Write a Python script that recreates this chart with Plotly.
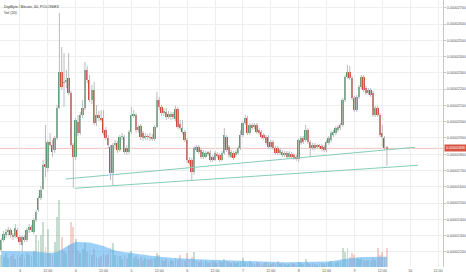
import pandas as pd
import plotly.graph_objects as go

TITLE = "DigiByte / Bitcoin, 60, POLONIEX"
VOL_TITLE = "Vol (20)"
START = "2017-05-02 16:00"  # first hourly bar

# prices in satoshi (1e-8 BTC)
OPEN = [1212,1273,1304,1322,1335,1304,1298,1335,1292,1242,1292,1273,1335,1353,1322,1396,1457,1531,1587,1740,
        1716,1875,1857,1826,1900,2084,2306,2238,2244,2269,2177,1857,1783,1998,1931,2041,2084,2318,2256,2134,
        2195,1992,2041,2023,2023,1949,1900,1845,1685,1857,1869,1826,1906,1906,1839,1814,1937,2041,2041,1949,
        1974,1931,1900,1912,1906,1900,1894,1968,2134,2091,2054,2060,2048,2029,2048,2017,2078,1986,1961,1937,
        1888,1765,1765,1691,1826,1845,1826,1783,1783,1808,1808,1783,1765,1802,1796,1765,1808,1906,1845,1783,
        1808,1796,1808,1839,1918,1992,2023,1931,1980,1968,1980,1949,1937,1918,1906,1906,1875,1875,1839,1839,
        1808,1814,1796,1808,1783,1802,1796,1783,1771,1869,1900,1888,1949,1875,1839,1857,1845,1851,1851,1845,
        1826,1869,1888,1918,1931,1949,1961,1980,2134,2275,2306,2269,2146,2072,2152,2213,2275,2207,2177,2195,
        2177,2041,2084,2041,1931,1900,1839]
HIGH = [1285,1329,1341,1353,1347,1316,1371,1347,1304,1304,1304,1347,1371,1365,1408,1457,1544,1605,1765,1980,
        1888,1931,1888,1912,2103,2668,2459,2422,2318,2422,2189,1869,2023,2041,2060,2134,2367,2343,2287,2226,
        2244,2103,2066,2072,2072,1968,1918,1857,1869,1888,1882,1918,1931,1918,1857,1949,2091,2072,2054,1980,
        1986,1943,1931,1925,1931,1925,1980,2183,2152,2103,2084,2084,2066,2060,2060,2097,2091,2011,2011,1949,
        1900,1783,1777,1851,1857,1857,1839,1826,1820,1820,1826,1796,1820,1814,1808,1820,1961,1918,1857,1826,
        1820,1826,1851,1949,2004,2041,2035,1992,1992,1992,1992,1961,1949,1931,1918,1918,1888,1888,1851,1851,
        1839,1826,1820,1820,1820,1814,1808,1796,1900,1912,1912,1980,1961,1888,1869,1869,1863,1863,1863,1857,
        1888,1912,1943,1949,1974,1980,1992,2146,2287,2349,2343,2281,2158,2164,2226,2287,2287,2220,2207,2207,
        2189,2097,2097,2054,1980,1912,1851]
LOW = [1199,1261,1285,1298,1285,1273,1285,1279,1242,1199,1261,1261,1316,1322,1310,1384,1445,1519,1580,1660,
       1691,1845,1783,1808,1888,2078,2195,2091,2207,2164,1845,1593,1765,1912,1918,2023,2072,2238,2121,2109,
       1980,1974,2004,1998,1918,1888,1839,1642,1605,1839,1808,1814,1888,1802,1796,1802,1925,2023,1931,1931,
       1888,1882,1888,1888,1882,1882,1882,1961,2072,2035,2035,2011,2017,2011,2017,2004,1955,1949,1925,1875,
       1746,1734,1642,1673,1814,1802,1771,1771,1777,1789,1752,1752,1759,1777,1752,1759,1796,1814,1777,1777,
       1765,1783,1796,1826,1906,1980,1918,1918,1949,1955,1925,1918,1894,1888,1857,1832,1832,1826,1796,1796,
       1796,1783,1783,1771,1771,1771,1765,1759,1752,1857,1863,1875,1863,1783,1826,1826,1832,1832,1820,1814,
       1814,1857,1875,1906,1918,1937,1949,1968,2121,2263,2256,2134,2060,2060,2140,2201,2183,2164,2164,2152,
       2029,2029,2029,1906,1845,1826,1728]
CLOSE = [1273,1310,1322,1335,1304,1292,1347,1292,1261,1292,1273,1335,1353,1335,1396,1445,1531,1580,1734,1722,
         1875,1857,1814,1900,2084,2306,2213,2244,2256,2177,1857,1783,2011,1931,2041,2084,2318,2256,2134,2195,
         1992,2041,2023,2011,1931,1900,1857,1685,1857,1869,1826,1906,1912,1814,1814,1937,2041,2048,1949,1968,
         1906,1900,1912,1906,1900,1894,1968,2134,2091,2054,2066,2029,2029,2048,2029,2078,1968,1961,1937,1888,
         1765,1746,1691,1839,1845,1814,1783,1814,1808,1802,1765,1765,1808,1789,1765,1808,1918,1826,1796,1814,
         1777,1814,1839,1918,1992,2023,1931,1980,1961,1980,1937,1931,1906,1900,1869,1845,1845,1839,1808,1808,
         1826,1796,1808,1783,1808,1783,1777,1771,1888,1900,1875,1949,1875,1839,1857,1839,1851,1845,1832,1826,
         1875,1900,1931,1937,1961,1968,1980,2134,2275,2306,2269,2146,2072,2152,2213,2275,2195,2177,2195,2164,
         2041,2084,2041,1918,1906,1839,1836]

VOLUME = [12,10,14,9,11,13,8,12, 10,13,9,14,12,11,16,
          32,26,32,45,20,38,14,12,25,50,67,30,16,14,22,45,40,28,16,14,18,24,15,14,12,18,10,9,11,14,12,13,20,24,12,10,
          11,8,12,9,13,16, 9,11,8,10,7,9,8,7, 8,9,14,12, 7,6,8,5,7,6,9,7, 12, 7,6, 14, 8,10, 15,
          6,5,7,5,6,4,5,6,5,4,6,5,8,6,5,4,5,4,5,6, 9,
          5,4,6,4,3,5,4,3,4,5,4,3,4,3, 6, 3,4,3,2,3,4,3,2,5,4,3, 8,
          4,3,4,3,2,3,4,3,4,5, 6, 4,5,5,6,
          19,15,19,10,14,12,9,8,8,7,6,7,6,9,7,19,12,15,10,19]
VOL_MA = [16,16,16,16,16,16,16,16,16,16,16,16,16,16,15.5,15.5,15,15,
          15,14.5,14,14,14, 14.5,15,16,17.5,19, 20.5,22,23,24,25, 25,25,25,25,25,24.5,
          24,23.5,23,22.5,22,21, 20,19,18,17,16.5,16, 15.5,15,15,14.5,14.5,14,
          13.5,13.5,13,12.5,12.5,12, 12,11.5,11,11,10.5,10.3,
          10,10,9.5,9.5,9.2,9,8.8,8.7, 8.5,8.4,8.3,8.2,8.1,8,7.9,7.8,
          7.7,7.6,7.5,7.4,7.3,7.2,7.1,7, 6.9,6.8,6.7,6.6,6.5,6.4,6.3,6.2,
          6.1,6,5.9,5.8,5.7,5.6,5.5,5.4, 5.3,5.2,5.1,5,4.9,4.8,4.8,4.7,
          4.7,4.7,4.7,4.7,4.7,4.7,4.7,4.7, 4.7,4.7,4.7,4.7,4.7,4.7,4.8,4.9,
          5,5,5.1,5.2,5.2,5.3,5.3,5.4, 5.5,5.7,6,6.4,6.8,7.2,7.7,8.1,
          8.5,8.8,9.1,9.4,9.7,9.8,9.9,10, 10,10.1,10.1,10.2,10.2,10.3,10.3,10.3,10.3,10.3]

PRICE_TICKS = [1200,1300,1400,1500,1600,1700,1800,1900,2000,2100,2200,2300,2400,2500,2600,2700]
PRICE_TICK_LABELS = ["0.00001200","0.00001300","0.00001400","0.00001500","0.00001600","0.00001700",
                     "0.00001800","0.00001900","0.00002000","0.00002100","0.00002200","0.00002300",
                     "0.00002400","0.00002500","0.00002600","0.00002700"]
TIME_TICKS = ["2017-05-03 00:00","2017-05-03 12:00","2017-05-04 00:00","2017-05-04 12:00",
              "2017-05-05 00:00","2017-05-05 12:00","2017-05-06 00:00","2017-05-06 12:00",
              "2017-05-07 00:00","2017-05-07 12:00","2017-05-08 00:00","2017-05-08 12:00",
              "2017-05-09 00:00","2017-05-09 12:00","2017-05-10 00:00","2017-05-10 12:00"]
TIME_TICK_LABELS = ["3","12:00","4","12:00","5","12:00","6","12:00","7","12:00","8","12:00","9","12:00","10","12:00"]
X_RANGE = ["2017-05-02 15:26", "2017-05-10 14:09"]
PRICE_RANGE = [1107, 2748]
VOL_RANGE = [0, 267]
TREND_LINES = [
    ("2017-05-03 19:42", 1648, "2017-05-10 02:12", 1843),
    ("2017-05-03 23:36", 1591, "2017-05-10 03:24", 1732),
]
LAST_PRICE_LABEL = "0.00001836"

n = len(CLOSE)
assert len(OPEN) == n and len(HIGH) == n and len(LOW) == n and len(VOLUME) == n and len(VOL_MA) == n

times = pd.date_range(START, periods=n, freq="h")
UP = "#5b9b70"
DOWN = "#cf4b3b"
is_up = [c >= o for o, c in zip(OPEN, CLOSE)]
body_col = [UP if u else DOWN for u in is_up]
vol_col = ["rgba(107,165,131,0.38)" if u else "rgba(215,84,66,0.27)" for u in is_up]
BAR_W = 0.78 * 3600 * 1000

fig = go.Figure()
# volume (base axis y, hidden)
fig.add_trace(go.Bar(x=times, y=VOLUME, width=BAR_W, marker=dict(color=vol_col, line=dict(width=0)),
                     yaxis="y", hoverinfo="skip"))
fig.add_trace(go.Scatter(x=times, y=VOL_MA, mode="lines", fill="tozeroy",
                         fillcolor="rgba(76,170,238,0.55)", line=dict(width=0, color="rgba(76,170,238,0.6)"),
                         yaxis="y", hoverinfo="skip"))
# wicks
wx, wy = [], []
for t, h, l in zip(times, HIGH, LOW):
    wx += [t, t, None]
    wy += [l, h, None]
fig.add_trace(go.Scatter(x=wx, y=wy, mode="lines", line=dict(color="#bcbcbc", width=1),
                         yaxis="y2", hoverinfo="skip"))
# bodies
base = [min(o, c) for o, c in zip(OPEN, CLOSE)]
hgt = [max(abs(c - o), 5) for o, c in zip(OPEN, CLOSE)]
fig.add_trace(go.Bar(x=times, y=hgt, base=base, width=BAR_W, marker=dict(color=body_col, line=dict(width=0)),
                     yaxis="y2", hoverinfo="skip"))

shapes = [dict(type="line", xref="paper", x0=0, x1=1, yref="y2", y0=CLOSE[-1], y1=CLOSE[-1],
               line=dict(color="rgba(215,84,66,0.35)", width=1), layer="below")]
for x0, y0, x1, y1 in TREND_LINES:
    shapes.append(dict(type="line", xref="x", yref="y2", x0=x0, y0=y0, x1=x1, y1=y1,
                       line=dict(color="#86cdbb", width=1)))

fnt = "Liberation Sans, Arial, sans-serif"
fig.update_layout(
    width=466, height=275, margin=dict(l=0, r=21, t=0, b=8),
    paper_bgcolor="white", plot_bgcolor="white", showlegend=False,
    barmode="overlay", bargap=0, font=dict(family=fnt),
    xaxis=dict(type="date", range=X_RANGE, tickvals=TIME_TICKS, ticktext=TIME_TICK_LABELS,
               showgrid=True, gridcolor="#eeeeee", gridwidth=1, ticks="", showline=False,
               zeroline=False, tickfont=dict(size=3.6, color="#555555", family=fnt), fixedrange=True),
    yaxis=dict(range=VOL_RANGE, visible=False, fixedrange=True),
    yaxis2=dict(overlaying="y", side="right", range=PRICE_RANGE, tickvals=PRICE_TICKS,
                ticktext=PRICE_TICK_LABELS, showgrid=True, gridcolor="#eeeeee", gridwidth=1,
                showline=True, linecolor="#c8c8c8", linewidth=1, ticks="outside", ticklen=2,
                tickcolor="#c8c8c8", zeroline=False,
                tickfont=dict(size=3.6, color="#555555", family=fnt), fixedrange=True),
    shapes=shapes,
    annotations=[
        dict(xref="paper", yref="paper", x=0, y=1, xanchor="left", yanchor="top", xshift=2, yshift=-3,
             text=TITLE, showarrow=False, font=dict(size=3.7, color="#333333", family=fnt)),
        dict(xref="paper", yref="paper", x=0, y=1, xanchor="left", yanchor="top", xshift=2, yshift=-9,
             text=VOL_TITLE, showarrow=False, font=dict(size=3.7, color="#333333", family=fnt)),
        dict(xref="paper", yref="y2", x=1, y=CLOSE[-1], xanchor="left", yanchor="middle", xshift=1,
             text=LAST_PRICE_LABEL, showarrow=False, bgcolor="#d75442", borderpad=1,
             font=dict(size=3.6, color="white", family=fnt)),
    ],
)
fig.write_html("out.html", config={"displayModeBar": False})
